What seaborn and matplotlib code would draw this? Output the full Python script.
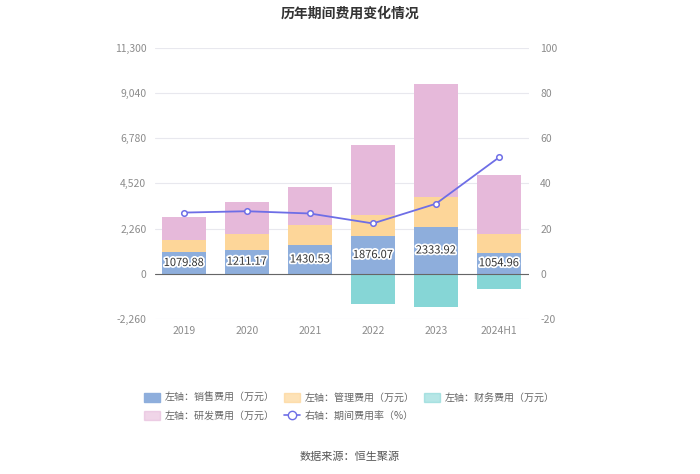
import matplotlib
matplotlib.use("Agg")
import matplotlib.pyplot as plt
import matplotlib.patheffects as pe
from matplotlib.patches import Patch
from matplotlib.lines import Line2D
import pandas as pd
import seaborn as sns

sns.set_style("white")
plt.rcParams["font.family"] = ["Noto Sans CJK SC", "DejaVu Sans"]
plt.rcParams["axes.unicode_minus"] = False

# ---- data ----
years = ["2019", "2020", "2021", "2022", "2023", "2024H1"]
sales = [1079.88, 1211.17, 1430.53, 1876.07, 2333.92, 1054.96]
admin = [613, 781, 990, 1077, 1531, 917]
finance = [-30, -20, -25, -1494, -1678, -767]
rnd = [1126, 1594, 1913, 3486, 5647, 2988]
ratio = [27.1, 27.7, 26.7, 22.3, 31.0, 51.5]

BLUE = "#8eaedc"
ORANGE = "#fdd699"
TEAL = "#86d6d6"
PINK = "#e6b9da"
LINE = "#6e6ee6"
GRAY = "#8c8c8c"

df = pd.DataFrame({"year": years, "sales": sales, "admin": admin,
                   "finance": finance, "rnd": rnd, "ratio": ratio})
df["c_admin"] = df["sales"] + df["admin"]
df["c_rnd"] = df["c_admin"] + df["rnd"]

fig = plt.figure(figsize=(7, 4.74), dpi=100)
ax = fig.add_axes([0.221, 0.327, 0.535, 0.572])

# stacked look: draw cumulative totals back to front
for col, color in [("c_rnd", PINK), ("c_admin", ORANGE), ("sales", BLUE), ("finance", TEAL)]:
    sns.barplot(data=df, x="year", y=col, color=color, width=0.7,
                saturation=1, linewidth=0, edgecolor="none", ax=ax, zorder=2)

for i, v in enumerate(sales):
    ax.text(i, v / 2, f"{v:.2f}", ha="center", va="center",
            fontsize=8, color="#333333", zorder=5,
            path_effects=[pe.withStroke(linewidth=2.5, foreground="white")])

ax.set_ylim(-2260, 11300)
ax.set_yticks([-2260, 0, 2260, 4520, 6780, 9040, 11300])
ax.set_yticklabels([f"{t:,}" for t in [-2260, 0, 2260, 4520, 6780, 9040, 11300]])
ax.set_xlim(-0.46, 5.48)
ax.grid(axis="y", color="#e8e8ee", linewidth=0.8, zorder=0)
ax.axhline(0, color="#666666", linewidth=0.8, zorder=3)
for s in ax.spines.values():
    s.set_visible(False)
ax.set_xlabel("")
ax.set_ylabel("")
ax.tick_params(axis="y", length=0, labelsize=7.5, labelcolor=GRAY, pad=6)
ax.tick_params(axis="x", length=0, labelsize=7.5, labelcolor=GRAY, pad=5)
ax.set_axisbelow(True)

ax2 = ax.twinx()
sns.lineplot(data=df, x="year", y="ratio", ax=ax2, color=LINE, linewidth=1.3,
             marker="o", markersize=4, markerfacecolor="white",
             markeredgecolor=LINE, markeredgewidth=1.1, sort=False, zorder=6)
ax2.set_ylim(-20, 100)
ax2.set_yticks([-20, 0, 20, 40, 60, 80, 100])
ax2.set_ylabel("")
for s in ax2.spines.values():
    s.set_visible(False)
ax2.tick_params(axis="y", length=0, labelsize=7.5, labelcolor=GRAY, pad=8)

fig.text(0.5, 0.972, "历年期间费用变化情况", ha="center", va="center",
         fontsize=10, fontweight="bold", color="#333333")

h_sales = Patch(color=BLUE, label="左轴：销售费用（万元）")
h_admin = Patch(color=ORANGE, alpha=0.7, label="左轴：管理费用（万元）")
h_fin = Patch(color=TEAL, alpha=0.6, label="左轴：财务费用（万元）")
h_rnd = Patch(color=PINK, alpha=0.6, label="左轴：研发费用（万元）")
h_ratio = Line2D([], [], color=LINE, marker="o", markerfacecolor="white",
                 markersize=6, linewidth=1.2, label="右轴：期间费用率（%）")
# legend fills column by column, so order handles for row-major appearance
fig.legend(handles=[h_sales, h_rnd, h_admin, h_ratio, h_fin], ncol=3,
           loc="upper left", bbox_to_anchor=(0.193, 0.19),
           frameon=False, fontsize=7.2, labelcolor="#666666", handlelength=1.6,
           handleheight=1.0, columnspacing=0.9, handletextpad=0.5, labelspacing=0.75)

fig.text(0.5, 0.036, "数据来源：恒生聚源", ha="center", va="center",
         fontsize=8, color="#555555")

fig.savefig("out.png", dpi=100, facecolor="white")
